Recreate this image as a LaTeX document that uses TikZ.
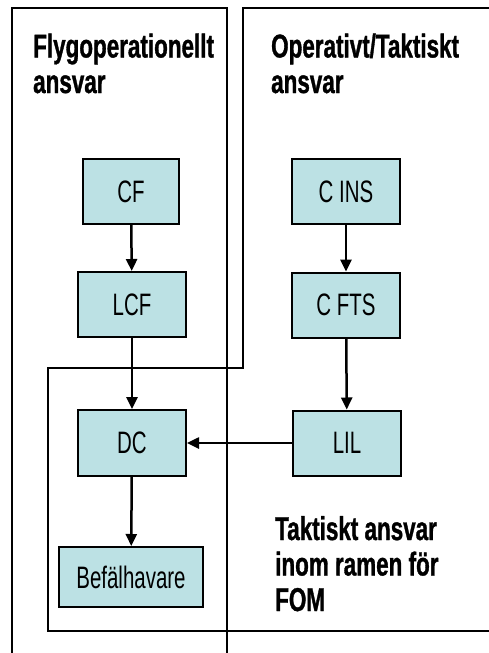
\documentclass[tikz,border=0pt]{standalone}
\usepackage{fontspec}
\usetikzlibrary{arrows.meta}
\newfontfamily\condreg{Liberation Sans}[FakeStretch=0.66]
\newfontfamily\condbold{Liberation Sans Bold}[FakeStretch=0.68, FakeBold=1]
\definecolor{boxfill}{RGB}{188,225,228}
\tikzset{
  unit/.style={draw=black, line width=2pt, fill=boxfill, minimum height=65pt,
    minimum width=108pt, inner sep=0pt,
    font=\condreg\fontsize{31}{33}\selectfont},
  frame/.style={draw=black, line width=2pt},
  link/.style={draw=black, line width=2.5pt, -{Triangle[length=12pt,width=11pt]}},
  heading/.style={anchor=base west, align=left, inner sep=0pt,
    font=\condbold\fontsize{33}{35.5}\selectfont}
}
\begin{document}
\begin{tikzpicture}[x=1pt,y=-1pt]
\useasboundingbox (0,0) rectangle (489,653);
% column frames
\draw[frame] (12,660) -- (12,8) -- (227,8) -- (227,660);
\draw[frame] (495,8) -- (243,8) -- (243,368) -- (48,368) -- (48,631) -- (495,631);
% headings (anchored at the baseline of their last line)
\node[heading] (h1) at (33,93) {Flygoperationellt\\ansvar};
\node[heading] (h2) at (271,93) {Operativt/Taktiskt\\ansvar};
\node[heading] (h3) at (275,611) {Taktiskt ansvar\\inom ramen för\\FOM};
% units
\node[unit, minimum width=96pt] (cf) at (131,191.5) {CF};
\node[unit] (lcf) at (132,304.5) {LCF};
\node[unit, minimum height=66pt] (dc) at (132,443) {DC};
\node[unit, minimum width=144pt, minimum height=60pt] (bef) at (131,577) {Befälhavare};
\node[unit] (cins) at (346,191.5) {C INS};
\node[unit] (cfts) at (346,305) {C FTS};
\node[unit] (lil) at (347,443) {LIL};
% connections
\draw[link] (cf) -- (lcf);
\draw[link] (lcf) -- (dc);
\draw[link] (dc) -- (bef);
\draw[link] (cins) -- (cfts);
\draw[link] (cfts) -- (lil);
\draw[link] (lil) -- (dc);
\end{tikzpicture}
\end{document}
